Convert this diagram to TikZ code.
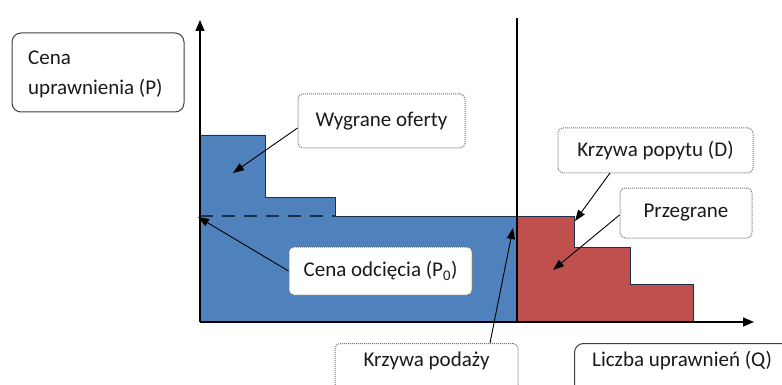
\documentclass[tikz,border=0pt]{standalone}
\usepackage{fontspec}
\setmainfont{Carlito}
\usetikzlibrary{arrows.meta}
\definecolor{winblue}{HTML}{4F81BD}
\definecolor{loseRed}{HTML}{C0504D}
\definecolor{edgeDark}{HTML}{1F2F4A}
\definecolor{txt}{HTML}{1A1A1A}
\tikzset{
  dotbox/.style={draw=black!55, densely dotted, line width=1pt, rounded corners=5pt, fill=white, text=txt, font=\fontsize{21}{24}\selectfont, inner sep=0pt},
  solidbox/.style={draw=black!75, line width=1pt, rounded corners=9pt, fill=white, text=txt, font=\fontsize{21}{24}\selectfont, inner sep=0pt},
  plaintext/.style={text=txt, font=\fontsize{21}{30}\selectfont, inner sep=0pt},
  ptr/.style={draw=black, line width=0.9pt, -{Triangle[length=11pt,width=8pt]}},
  axis/.style={draw=black, line width=1.3pt, -{Triangle[length=11pt,width=9pt]}},
}
\begin{document}
\begin{tikzpicture}[x=1pt,y=-1pt]
\useasboundingbox (0,0) rectangle (782,385);
\clip (0,0) rectangle (782,385);
% winning bids (blue)
\fill[winblue, draw=edgeDark, line width=0.8pt] (200,135) -- (265,135) -- (265,197) -- (335,197) -- (335,216) -- (517,216) -- (517,322) -- (200,322) -- cycle;
% losing bids (red)
\fill[loseRed, draw=edgeDark, line width=0.8pt] (517,216) -- (574,216) -- (574,247) -- (630,247) -- (630,284) -- (693,284) -- (693,322) -- (517,322) -- cycle;
% dashed cut-off price
\draw[edgeDark, line width=1.8pt, dash pattern=on 13pt off 9pt] (200,216) -- (335,216);
% supply curve (vertical)
\coordinate (supTop) at (517,18);
\coordinate (supBot) at (517,322);
\draw[black, line width=1.1pt] (supTop) -- (supBot);
% axes
\coordinate (origin) at (200,322);
\coordinate (yTip) at (200,20);
\coordinate (xTip) at (754,322);
\draw[axis] (origin) -- (yTip);
\draw[axis] (origin) -- (xTip);
% boxes
\node[solidbox, minimum width=172pt, minimum height=79pt] (ylab) at (98,72.5) {};
\node[plaintext, align=left, anchor=north west] (ylabtxt) at (28,51) {Cena\\uprawnienia (P)};
\node[dotbox, minimum width=167pt, minimum height=54pt] (win) at (381.5,121) {Wygrane oferty};
\node[dotbox, minimum width=183pt, minimum height=48pt] (cut) at (380.5,271) {Cena odcięcia (P\textsubscript{0})};
\node[dotbox, minimum width=195pt, minimum height=45pt] (dem) at (655.5,150.5) {Krzywa popytu (D)};
\node[dotbox, minimum width=132pt, minimum height=50pt] (lose) at (686,213) {Przegrane};
\node[dotbox, minimum width=183pt, anchor=north, inner ysep=8pt, text height=15pt, text depth=40pt] (sup) at (426.5,343) {Krzywa podaży};
\node[solidbox, minimum width=240pt, minimum height=70pt, anchor=north west] (qlab) at (574,343) {};
\node[plaintext, anchor=west] (qlabtxt) at (592,361) {Liczba uprawnień (Q)};
% pointer targets
\coordinate (winT) at (233,173);
\coordinate (cutT) at (198,217);
\coordinate (supT) at (513,228);
\coordinate (demT) at (575,221);
\coordinate (loseT) at (553,270);
\draw[ptr] (win.west |- 0,128) -- (winT);
\draw[ptr] (cut.west) -- (cutT);
\draw[ptr] (490,343) -- (supT);
\draw[ptr] (610,173) -- (demT);
\draw[ptr] (lose.west |- 0,215) -- (loseT);
\end{tikzpicture}
\end{document}
